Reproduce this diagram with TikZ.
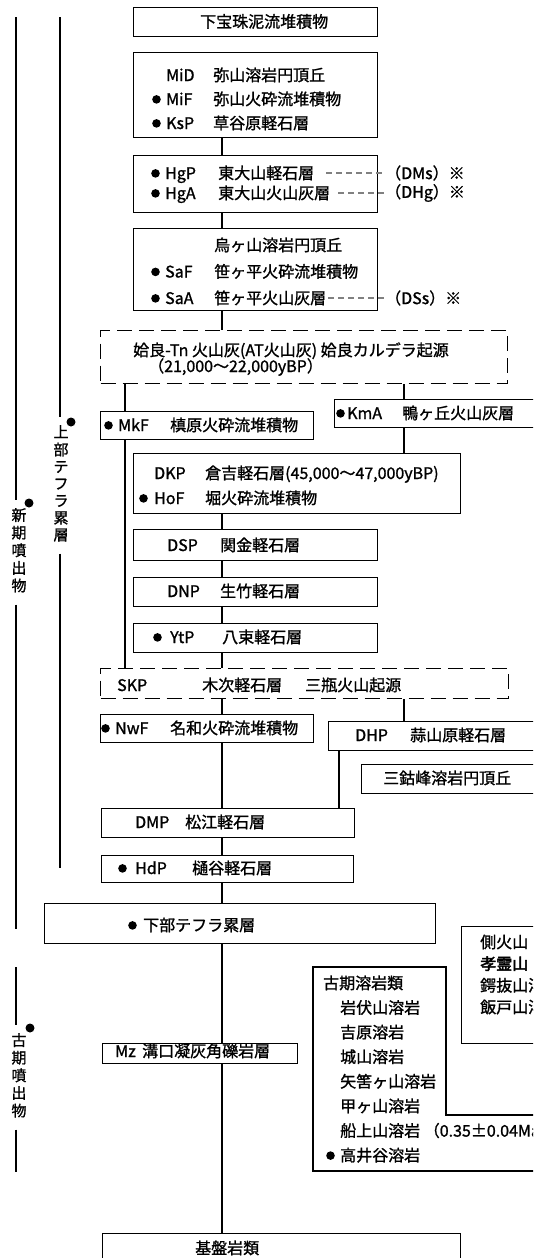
\documentclass[tikz,border=0pt]{standalone}
\usepackage{fontspec}
\newfontfamily\jp[FakeBold=1.2]{Noto Sans CJK JP}
\newfontfamily\jpb[FakeBold=3]{Noto Sans CJK JP}
\newcommand\dt[1][14pt]{\makebox[#1][l]{\tikz[baseline=-5.6pt]\fill (0,0) circle (4.3pt);}}
\newcommand\nd[1][14pt]{\hspace*{#1}}
\newcommand\cd[2][52pt]{\makebox[#1][l]{#2}}
\newcommand\stk[2]{\fontsize{16}{#1}\selectfont\begin{tabular}[t]{@{}l@{}}#2\end{tabular}}
\newcommand\vstk[1]{\begin{tabular}[t]{@{}c@{}}#1\end{tabular}}
\begin{document}
\begin{tikzpicture}[x=1pt, y=-1pt,
    box/.style={draw, line width=1.3pt, inner sep=0pt, anchor=north west},
    dbox/.style={box, dash pattern=on 15pt off 7pt},
    txt/.style={inner sep=0pt, anchor=base west, font=\jp\fontsize{16}{20}\selectfont},
    vtxt/.style={inner xsep=0pt, inner ysep=8pt, anchor=north, font=\jp\fontsize{15}{17}\selectfont},
    link/.style={line width=1.2pt},
    gdash/.style={gray, line width=1.2pt, dash pattern=on 6pt off 4pt}]
                \useasboundingbox (0,0) rectangle (533,1258);
                \fill[white] (0,0) rectangle (533,1258);
                \clip (0,0) rectangle (533,1258);

                % Colonnes de gauche
                \coordinate (n1t) at (16,17);
                \coordinate (n1b) at (16,929);
                \coordinate (k1t) at (16,967);
                \coordinate (k1b) at (16,1172);
                \coordinate (j2t) at (60,17);
                \coordinate (j2b) at (60,868);
                \node[vtxt] (shinki) at (19,500) {\vstk{新\\期\\噴\\出\\物}};
                \node[vtxt] (kouki) at (19,1025) {\vstk{古\\期\\噴\\出\\物}};
                \node[vtxt] (joubu) at (61,417) {\vstk{上\\部\\テ\\フ\\ラ\\累\\層}};
                \draw[line width=2pt] (n1t) -- (shinki.north -| n1t);
                \draw[line width=2pt] (shinki.south -| n1t) -- (n1b);
                \draw[line width=2pt] (k1t) -- (kouki.north -| k1t);
                \draw[line width=2pt] (kouki.south -| k1t) -- (k1b);
                \draw[line width=1.7pt] (j2t) -- (joubu.north -| j2t);
                \draw[line width=1.7pt] (joubu.south -| j2t) -- (j2b);
                \fill (29,503) circle (4.5pt);
                \fill (30,1028) circle (4.5pt);
                \fill (71,422) circle (4.5pt);

                % Boites
                \node[box, minimum width=244pt, minimum height=29pt] (kaho) at (133,7) {};
                \node[box, minimum width=244pt, minimum height=85pt] (mi) at (133,52) {};
                \node[box, minimum width=244pt, minimum height=57pt] (hg) at (133,155) {};
                \node[box, minimum width=244pt, minimum height=82pt] (sa) at (133,228) {};
                \node[dbox, minimum width=407pt, minimum height=53pt] (at) at (100,330) {};
                \node[box, minimum width=213pt, minimum height=28pt] (mk) at (100,411) {};
                \node[box, minimum width=226pt, minimum height=28pt] (km) at (334,399) {};
                \node[box, minimum width=327pt, minimum height=60pt] (dk) at (133,453) {};
                \node[box, minimum width=244pt, minimum height=31pt] (ds) at (133,529) {};
                \node[box, minimum width=244pt, minimum height=29pt] (dn) at (133,577) {};
                \node[box, minimum width=244pt, minimum height=29pt] (yt) at (133,623) {};
                \node[dbox, minimum width=408pt, minimum height=30pt] (sk) at (100,668) {};
                \node[box, minimum width=213pt, minimum height=28pt] (nw) at (100,714) {};
                \node[box, minimum width=232pt, minimum height=29pt] (dh) at (328,721) {};
                \node[box, minimum width=199pt, minimum height=29pt] (sanko) at (361,764) {};
                \node[box, minimum width=253pt, minimum height=29pt] (dm) at (101,808) {};
                \node[box, minimum width=252pt, minimum height=27pt] (hd) at (101,855) {};
                \node[box, minimum width=391pt, minimum height=40pt] (kabu) at (44,903) {};
                \node[box, minimum width=99pt, minimum height=117pt] (sok) at (461,926) {};
                \node[box, minimum width=195pt, minimum height=20pt] (mz) at (102,1043) {};
                \node[box, minimum width=358pt, minimum height=40pt] (ki) at (102,1233) {};
                \draw[line width=1.3pt] (313,967) -- (446,967) -- (446,1115) -- (560,1115)
                    -- (560,1171) -- (313,1171) -- cycle;

                % Textes
                \node[txt] (kahot) at (200,27.5) {下宝珠泥流堆積物};
                \node[txt] (mit) at (152,81) {\stk{24}{\nd\cd[47pt]{MiD}弥山溶岩円頂丘\\\dt\cd[47pt]{MiF}弥山火砕流堆積物\\\dt\cd[47pt]{KsP}草谷原軽石層}};
                \node[txt] (hgt) at (151,179) {\stk{20}{\dt\cd[53pt]{HgP}東大山軽石層\\\dt\cd[53pt]{HgA}東大山火山灰層}};
                \node[txt] (sat) at (151,251) {\stk{26.5}{\nd\cd[49pt]{}烏ヶ山溶岩円頂丘\\\dt\cd[49pt]{SaF}笹ヶ平火砕流堆積物\\\dt\cd[49pt]{SaA}笹ヶ平火山灰層}};
                \node[txt] (att1) at (133,356) {姶良-Tn 火山灰(AT火山灰)\ 姶良カルデラ起源};
                \node[txt] (att2) at (148,372) {（21,000〜22,000yBP）};
                \node[txt] (mkt) at (104,431) {\dt\cd[52pt]{MkF}槙原火砕流堆積物};
                \node[txt] (kmt) at (336,419) {\dt[11pt]\cd[55pt]{KmA}鴨ヶ丘火山灰層};
                \node[txt] (dkt) at (139,479) {\stk{25}{\nd[15pt]\cd[51pt]{DKP}倉吉軽石層(45,000〜47,000yBP)\\\dt[15pt]\cd[51pt]{HoF}堀火砕流堆積物}};
                \node[txt] (dst) at (167,551) {\cd[53pt]{DSP}関金軽石層};
                \node[txt] (dnt) at (167,597) {\cd[53pt]{DNP}生竹軽石層};
                \node[txt] (ytt) at (153,643) {\dt[17pt]\cd[52pt]{YtP}八束軽石層};
                \node[txt] (skt) at (117,691) {\cd[85pt]{SKP}\cd[103pt]{木次軽石層}三瓶火山起源};
                \node[txt] (nwt) at (101,734) {\dt\cd[55pt]{NwF}名和火砕流堆積物};
                \node[txt] (dht) at (355,741) {\cd[55pt]{DHP}蒜山原軽石層};
                \node[txt] (sankot) at (383,784) {三鈷峰溶岩円頂丘};
                \node[txt] (dmt) at (135,828) {\cd[50pt]{DMP}松江軽石層};
                \node[txt] (hdt) at (118,874) {\dt[17pt]\cd[57pt]{HdP}樋谷軽石層};
                \node[txt] (kabut) at (128,931) {\dt[15pt]下部テフラ累層};
                \node[txt] (sokt) at (480,948) {\stk{21.7}{側火山\\{\jpb 孝霊山}\\鍔抜山溶岩\\飯戸山溶岩}};
                \node[txt] (kot) at (323,989) {\stk{24.6}{古期溶岩類\\\nd[17pt]岩伏山溶岩\\\nd[17pt]吉原溶岩\\\nd[17pt]城山溶岩\\\nd[17pt]矢筈ヶ山溶岩\\\nd[17pt]甲ヶ山溶岩\\\nd[17pt]船上山溶岩 （0.35±0.04Ma）\\\nd[3pt]\dt[14pt]高井谷溶岩}};
                \node[txt] (mzt) at (115,1057) {\cd[27pt]{Mz}溝口凝灰角礫岩層};
                \node[txt] (kit) at (195,1254) {基盤岩類};

                % Renvois en tirets
                \node[txt, anchor=west] (dms) at (385,173) {（DMs）※};
                \node[txt, anchor=west] (dhg) at (385,193) {（DHg）※};
                \node[txt, anchor=west] (dss) at (385,298) {（DSs）※};
                \coordinate (hgpe) at (326,173);
                \coordinate (hgae) at (338,193);
                \coordinate (saae) at (328,298);
                \draw[gdash] (hgpe) -- (dms.west);
                \draw[gdash] (hgae) -- (dhg.west);
                \draw[gdash] (saae) -- (dss.west);

                % Liaisons
                \coordinate (sp) at (222,0);
                \coordinate (spl) at (125,0);
                \coordinate (spr) at (404,0);
                \coordinate (sph) at (339,0);
                \draw[link] (mi.south -| sp) -- (hg.north -| sp);
                \draw[link] (hg.south -| sp) -- (sa.north -| sp);
                \draw[link] (sa.south -| sp) -- (at.north -| sp);
                \draw[link] (at.south -| spl) -- (mk.north -| spl);
                \draw[link] (at.south -| spr) -- (km.north -| spr);
                \draw[link] (mk.south -| spl) -- (sk.north -| spl);
                \draw[link] (km.south -| spr) -- (dk.north -| spr);
                \draw[link] (dk.south -| sp) -- (ds.north -| sp);
                \draw[link] (ds.south -| sp) -- (dn.north -| sp);
                \draw[link] (dn.south -| sp) -- (yt.north -| sp);
                \draw[link] (yt.south -| sp) -- (sk.north -| sp);
                \draw[link] (sk.south -| sp) -- (nw.north -| sp);
                \draw[link] (sk.south -| spr) -- (dh.north -| spr);
                \draw[link] (nw.south -| sp) -- (dm.north -| sp);
                \draw[link] (dh.south -| sph) -- (dm.north -| sph);
                \draw[link] (dm.south -| sp) -- (hd.north -| sp);
                \draw[link] (hd.south -| sp) -- (kabu.north -| sp);
                \draw[link] (kabu.south -| sp) -- (mz.north -| sp);
                \draw[link] (mz.south -| sp) -- (ki.north -| sp);

            \end{tikzpicture}
\end{document}
